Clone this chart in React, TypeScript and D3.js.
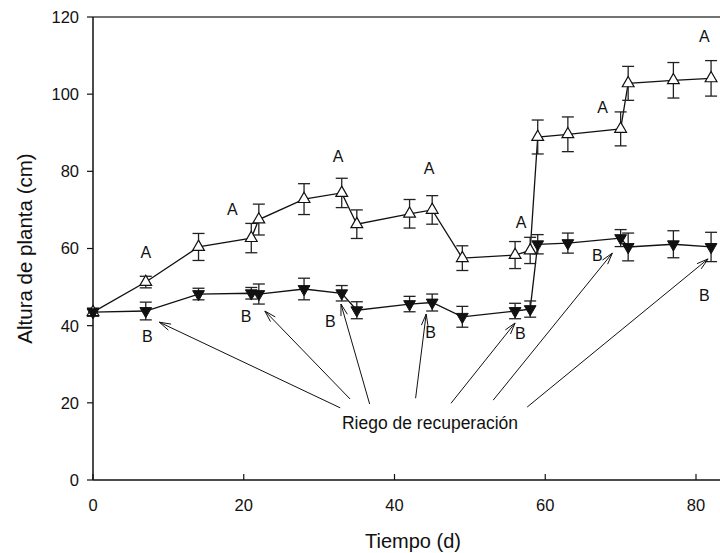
import React from "react";
import * as d3 from "d3";

// days of measurement
const days = [0, 7, 14, 21, 22, 28, 33, 35, 42, 45, 49, 56, 58, 59, 63, 70, 71, 77, 82];
// open triangles (upper series)
const upperMean = [43.5, 51.3, 60.4, 62.7, 67.5, 72.8, 74.4, 66.3, 69.0, 70.0, 57.5, 58.3, 59.5, 88.9, 89.6, 91.0, 102.8, 103.6, 104.1];
const upperErr = [1.0, 1.5, 3.5, 3.8, 4.0, 4.0, 3.8, 3.7, 3.7, 3.7, 3.2, 3.5, 3.4, 4.4, 4.5, 4.4, 4.4, 4.6, 4.6];
// filled triangles (lower series)
const lowerMean = [43.5, 43.8, 48.2, 48.4, 48.2, 49.5, 48.4, 44.0, 45.6, 46.0, 42.3, 43.8, 44.3, 61.1, 61.4, 62.7, 60.4, 61.1, 60.4];
const lowerErr = [1.0, 2.3, 1.5, 1.5, 2.6, 2.8, 2.0, 2.2, 2.0, 2.2, 2.7, 2.0, 2.1, 2.5, 2.6, 2.2, 3.6, 3.5, 3.8];

// significance letters [day, value]
const lettersA: [number, number][] = [[7, 59], [18.5, 70.2], [32.5, 84], [44.6, 80.8], [56.8, 66.9], [67.6, 96.6], [81.1, 115]];
const lettersB: [number, number][] = [[7.2, 37.3], [20.3, 42.5], [31.5, 41.2], [44.8, 38.3], [56.7, 38.1], [66.9, 58.3], [81.1, 48]];

// "Riego de recuperación" arrows: tail -> head, in data units
const arrowTails: [number, number][] = [[32.8, 18.7], [34.1, 21.0], [36.7, 19.7], [42.8, 21.2], [47.5, 19.9], [53.1, 20.7], [57.6, 18.9]];
const arrowHeads: [number, number][] = [[8.8, 40.9], [22.8, 43.8], [32.9, 45.6], [44.2, 43.0], [56.0, 40.7], [68.9, 58.8], [81.6, 57.3]];

const xTicks = [0, 20, 40, 60, 80];
const yTicks = [0, 20, 40, 60, 80, 100, 120];

const W = 720;
const H = 553;
const font = "'Liberation Sans', Arial, sans-serif";

export default function App() {
  const x = d3.scaleLinear().domain([0, 80]).range([93, 696]);
  const y = d3.scaleLinear().domain([0, 120]).range([480, 17]);
  const left = x(0);
  const right = W;
  const bottom = y(0);
  const top = y(120);

  const line = d3.line<number>().x((d, i) => x(days[i])).y(d => y(d));

  const upTri = d3.symbol().type(d3.symbolTriangle).size(60)();
  const cap = 6;

  const errBars = (means: number[], errs: number[], key: string) =>
    means.map((m, i) => {
      const cx = x(days[i]);
      const y1 = y(m + errs[i]);
      const y2 = y(m - errs[i]);
      return (
        <g key={key + i} stroke="#222" strokeWidth={1.3}>
          <line x1={cx} x2={cx} y1={y1} y2={y2} />
          <line x1={cx - cap} x2={cx + cap} y1={y1} y2={y1} />
          <line x1={cx - cap} x2={cx + cap} y1={y2} y2={y2} />
        </g>
      );
    });

  const arrows = arrowTails.map((t, i) => {
    const h = arrowHeads[i];
    const x1 = x(t[0]), y1 = y(t[1]);
    const x2 = x(h[0]), y2 = y(h[1]);
    const ang = Math.atan2(y1 - y2, x1 - x2);
    const len = 12;
    const spread = 0.28;
    const ax = x2 + len * Math.cos(ang + spread);
    const ay = y2 + len * Math.sin(ang + spread);
    const bx = x2 + len * Math.cos(ang - spread);
    const by = y2 + len * Math.sin(ang - spread);
    return (
      <g key={"ar" + i} stroke="#111" strokeWidth={1} fill="none">
        <line x1={x1} y1={y1} x2={x2} y2={y2} />
        <path d={`M${ax},${ay}L${x2},${y2}L${bx},${by}`} />
      </g>
    );
  });

  return (
    <svg width={W} height={H} style={{ position: "absolute", left: 0, top: 0, background: "#fff" }} fontFamily={font}>
      {/* frame */}
      <line x1={left} x2={right} y1={top} y2={top} stroke="#444" strokeWidth={1.6} />
      <line x1={left} x2={left} y1={top} y2={bottom} stroke="#111" strokeWidth={1.5} />
      <line x1={left} x2={right} y1={bottom} y2={bottom} stroke="#111" strokeWidth={1.5} />

      {yTicks.map(t => (
        <g key={"yt" + t}>
          <line x1={left - 6} x2={left} y1={y(t)} y2={y(t)} stroke="#111" strokeWidth={1.2} />
          <text x={left - 14} y={y(t)} dy="0.36em" textAnchor="end" fontSize={16.5} fill="#111">{t}</text>
        </g>
      ))}
      {xTicks.map(t => (
        <g key={"xt" + t}>
          <line x1={x(t)} x2={x(t)} y1={bottom} y2={bottom - 6} stroke="#111" strokeWidth={1.2} />
          <text x={x(t)} y={bottom + 25} dy="0.36em" textAnchor="middle" fontSize={16.5} fill="#111">{t}</text>
        </g>
      ))}

      <text x={413} y={541} dy="0.36em" textAnchor="middle" fontSize={20} fill="#111">Tiempo (d)</text>
      <text transform={`translate(25,${(top + bottom) / 2}) rotate(-90)`} dy="0.36em" textAnchor="middle" fontSize={20.5} fill="#111">Altura de planta (cm)</text>

      {/* lines */}
      <path d={line(upperMean) ?? ""} fill="none" stroke="#111" strokeWidth={1.3} />
      <path d={line(lowerMean) ?? ""} fill="none" stroke="#111" strokeWidth={1.3} />

      {errBars(upperMean, upperErr, "ue")}
      {errBars(lowerMean, lowerErr, "le")}

      {upperMean.map((m, i) => (
        <path key={"um" + i} d={upTri ?? ""} transform={`translate(${x(days[i])},${y(m)})`} fill="#fff" stroke="#111" strokeWidth={1.2} />
      ))}
      {lowerMean.map((m, i) => (
        <path key={"lm" + i} d={upTri ?? ""} transform={`translate(${x(days[i])},${y(m)}) rotate(180)`} fill="#111" stroke="#111" strokeWidth={1} />
      ))}

      {lettersA.map((p, i) => (
        <text key={"A" + i} x={x(p[0])} y={y(p[1])} dy="0.36em" textAnchor="middle" fontSize={16} fill="#111">A</text>
      ))}
      {lettersB.map((p, i) => (
        <text key={"B" + i} x={x(p[0])} y={y(p[1])} dy="0.36em" textAnchor="middle" fontSize={16} fill="#111">B</text>
      ))}

      {arrows}
      <text x={430} y={423} dy="0.36em" textAnchor="middle" fontSize={17.5} fill="#111">Riego de recuperación</text>
    </svg>
  );
}
